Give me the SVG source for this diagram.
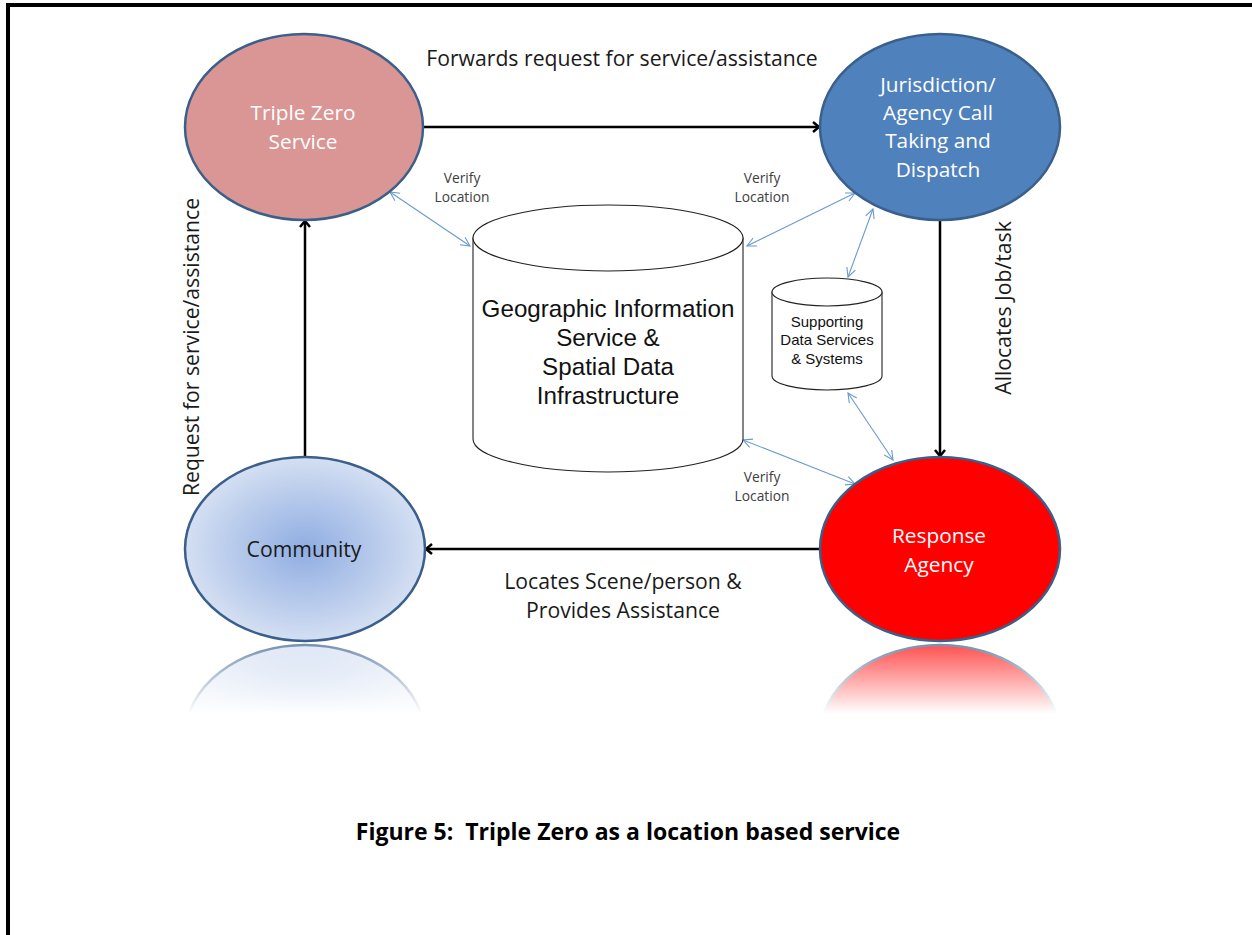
<svg xmlns="http://www.w3.org/2000/svg" width="1252" height="935" viewBox="0 0 1252 935">
  <style>
    .lbl { font-family: "Open Sans", "Liberation Sans", sans-serif; text-anchor: middle; }
    .node-text { font-size: 20.8px; fill: #ffffff; }
    .edge-text { font-size: 21.2px; fill: #1a1a1a; }
    .small { font-size: 13.8px; fill: #404040; }
    .db-text { font-family: "Liberation Sans", Arial, sans-serif; text-anchor: middle; fill: #111; }
    .node { stroke: #3a5f8b; stroke-width: 2.5; }
    .blk { stroke: #000; stroke-width: 2.5; fill: none; }
    .blu { stroke: #6a9acf; stroke-width: 1.1; fill: none; }
    .cyl { fill: #fff; stroke: #222; stroke-width: 1.1; }
  </style>
  <defs>
    <marker id="ab" markerUnits="userSpaceOnUse" markerWidth="14" markerHeight="14" viewBox="0 0 14 14" refX="12" refY="7" orient="auto">
      <path d="M6,2 L12,7 L6,12" fill="none" stroke="#000" stroke-width="2.5"/>
    </marker>
    <marker id="au" markerUnits="userSpaceOnUse" markerWidth="12" markerHeight="12" viewBox="0 0 12 12" refX="11" refY="6" orient="auto-start-reverse">
      <path d="M2,1.5 L11,6 L2,10.5" fill="none" stroke="#6a9acf" stroke-width="1.1"/>
    </marker>
    <radialGradient id="comm" cx="50%" cy="50%" r="50%">
      <stop offset="0" stop-color="#8fade2"/>
      <stop offset="1" stop-color="#d4dff2"/>
    </radialGradient>
    <linearGradient id="fadeG" gradientUnits="userSpaceOnUse" x1="0" y1="644" x2="0" y2="714">
      <stop offset="0" stop-color="#b0b0b0"/>
      <stop offset="1" stop-color="#000"/>
    </linearGradient>
    <mask id="fade" maskUnits="userSpaceOnUse" x="0" y="640" width="1252" height="80">
      <rect x="0" y="640" width="1252" height="74" fill="url(#fadeG)"/>
    </mask>
  </defs>

  <rect width="1252" height="935" fill="#fff"/>
  <path d="M8,935 L8,5 L1252,5" fill="none" stroke="#000" stroke-width="4"/>

  <g id="reflections" mask="url(#fade)">
    <ellipse cx="305" cy="737" rx="120" ry="92" fill="url(#comm)" class="node"/>
    <ellipse cx="940" cy="737" rx="120" ry="92" fill="#ff0000" class="node"/>
  </g>

  <g id="connectors">
    <path class="blk" d="M423,127 L819,127" marker-end="url(#ab)"/>
    <path class="blk" d="M305,457 L305,221" marker-end="url(#ab)"/>
    <path class="blk" d="M940,220 L940,456" marker-end="url(#ab)"/>
    <path class="blk" d="M820,549 L426,549" marker-end="url(#ab)"/>
    <path class="blu" d="M390,192 L470,246" marker-start="url(#au)" marker-end="url(#au)"/>
    <path class="blu" d="M855,193 L747,246" marker-start="url(#au)" marker-end="url(#au)"/>
    <path class="blu" d="M873,209 L848,277" marker-start="url(#au)" marker-end="url(#au)"/>
    <path class="blu" d="M848,393 L893,460" marker-start="url(#au)" marker-end="url(#au)"/>
    <path class="blu" d="M743,440 L855,484" marker-start="url(#au)" marker-end="url(#au)"/>
  </g>

  <g id="labels">
    <text class="lbl edge-text" x="622" y="66">Forwards request for service/assistance</text>
    <text class="lbl edge-text" x="623" y="589">Locates Scene/person &amp;</text>
    <text class="lbl edge-text" x="623" y="618">Provides Assistance</text>
    <text class="lbl edge-text" transform="translate(199,347) rotate(-90)" x="0" y="0">Request for service/assistance</text>
    <text class="lbl edge-text" transform="translate(1011,308) rotate(-90)" x="0" y="0">Allocates Job/task</text>
    <text class="lbl small" x="462" y="183">Verify</text>
    <text class="lbl small" x="462" y="202">Location</text>
    <text class="lbl small" x="762" y="183">Verify</text>
    <text class="lbl small" x="762" y="202">Location</text>
    <text class="lbl small" x="762" y="482">Verify</text>
    <text class="lbl small" x="762" y="501">Location</text>
  </g>

  <g id="triple-zero">
    <ellipse cx="304" cy="127" rx="119" ry="93" fill="#d99694" class="node"/>
    <text class="lbl node-text" x="303" y="120">Triple Zero</text>
    <text class="lbl node-text" x="303" y="149">Service</text>
  </g>

  <g id="jurisdiction">
    <ellipse cx="940" cy="127" rx="120" ry="93" fill="#4f81bd" class="node"/>
    <text class="lbl node-text" x="938" y="92">Jurisdiction/</text>
    <text class="lbl node-text" x="938" y="120">Agency Call</text>
    <text class="lbl node-text" x="938" y="148">Taking and</text>
    <text class="lbl node-text" x="938" y="177">Dispatch</text>
  </g>

  <g id="community">
    <ellipse cx="305" cy="549" rx="120" ry="92" fill="url(#comm)" class="node"/>
    <text class="lbl edge-text" x="304" y="557">Community</text>
  </g>

  <g id="response">
    <ellipse cx="940" cy="549" rx="120" ry="92" fill="#ff0000" class="node"/>
    <text class="lbl node-text" x="939" y="543">Response</text>
    <text class="lbl node-text" x="939" y="572">Agency</text>
  </g>

  <g id="gis">
    <path class="cyl" d="M473,238 L473,439 A135,33 0 0 0 743,439 L743,238 Z"/>
    <ellipse class="cyl" cx="608" cy="238" rx="135" ry="33"/>
    <text class="db-text" font-size="24.2" x="608" y="317">Geographic Information</text>
    <text class="db-text" font-size="24.2" x="608" y="346">Service &amp;</text>
    <text class="db-text" font-size="24.2" x="608" y="375">Spatial Data</text>
    <text class="db-text" font-size="24.2" x="608" y="404">Infrastructure</text>
  </g>

  <g id="supporting">
    <path class="cyl" d="M772,292 L772,376 A55,14 0 0 0 882,376 L882,292 Z"/>
    <ellipse class="cyl" cx="827" cy="292" rx="55" ry="14"/>
    <text class="db-text" font-size="15" x="827" y="327">Supporting</text>
    <text class="db-text" font-size="15" x="827" y="345">Data Services</text>
    <text class="db-text" font-size="15" x="827" y="364">&amp; Systems</text>
  </g>

  <text class="lbl" font-weight="bold" font-size="23" fill="#000" x="628" y="840" xml:space="preserve">Figure 5:  Triple Zero as a location based service</text>
</svg>
